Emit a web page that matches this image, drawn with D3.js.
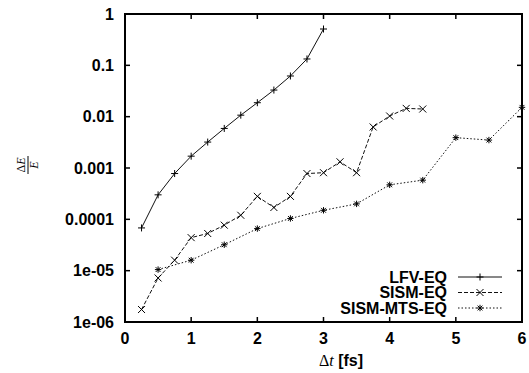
<!DOCTYPE html>
<html>
<head>
<meta charset="utf-8">
<script src="https://cdn.jsdelivr.net/npm/d3@7"></script>
<style>
body { margin: 0; background: #fff; }
svg.main text { font-family: "Liberation Sans", Arial, sans-serif; font-weight: bold; fill: #000; }
svg.main .tick-label { font-size: 16px; }
svg.main .serif { font-family: "Liberation Serif", "DejaVu Serif", serif; font-weight: normal; }
</style>
</head>
<body>
<script>
// tick labels
var yTickVals = [1e-6, 1e-5, 1e-4, 1e-3, 1e-2, 1e-1, 1];
var yTickText = ["1e-06", "1e-05", "0.0001", "0.001", "0.01", "0.1", "1"];
var xTickVals = [0, 1, 2, 3, 4, 5, 6];

// series
var seriesNames = ["LFV-EQ", "SISM-EQ", "SISM-MTS-EQ"];

var lfvX = [0.25, 0.5, 0.75, 1, 1.25, 1.5, 1.75, 2, 2.25, 2.5, 2.75, 3];
var lfvY = [6.8e-5, 3.0e-4, 7.8e-4, 1.7e-3, 3.2e-3, 5.9e-3, 0.0107, 0.0187, 0.033, 0.062, 0.133, 0.51];

var sismX = [0.25, 0.5, 0.75, 1, 1.25, 1.5, 1.75, 2, 2.25, 2.5, 2.75, 3, 3.25, 3.5, 3.75, 4, 4.25, 4.5];
var sismY = [1.75e-6, 7.2e-6, 1.6e-5, 4.4e-5, 5.3e-5, 7.7e-5, 1.2e-4, 2.8e-4, 1.7e-4, 2.8e-4,
             7.8e-4, 8.1e-4, 1.32e-3, 8.1e-4, 6.3e-3, 0.0103, 0.0145, 0.0141];

var mtsX = [0.5, 1, 1.5, 2, 2.5, 3, 3.5, 4, 4.5, 5, 5.5, 6];
var mtsY = [1.05e-5, 1.6e-5, 3.2e-5, 6.6e-5, 1.04e-4, 1.5e-4, 2.0e-4, 4.7e-4, 5.8e-4, 3.9e-3, 3.5e-3, 0.0152];

var W = 529, H = 373;
var padL = 125, padR = 522, padT = 14, padB = 322;

var svg = d3.select("body").append("svg")
    .attr("class", "main")
    .attr("width", W)
    .attr("height", H);

var x = d3.scaleLinear().domain([0, 6]).range([padL, padR]);
var y = d3.scaleLog().domain([1e-6, 1]).range([padB, padT]);

// mirrored inward ticks (gnuplot style)
var tl = 5;
var ticks = svg.append("g").attr("stroke", "#000").attr("stroke-width", 1.5);
xTickVals.forEach(function (v) {
    ticks.append("line").attr("x1", x(v)).attr("x2", x(v)).attr("y1", padB).attr("y2", padB - tl);
    ticks.append("line").attr("x1", x(v)).attr("x2", x(v)).attr("y1", padT).attr("y2", padT + tl);
});
yTickVals.forEach(function (v) {
    ticks.append("line").attr("x1", padL).attr("x2", padL + tl).attr("y1", y(v)).attr("y2", y(v));
    ticks.append("line").attr("x1", padR).attr("x2", padR - tl).attr("y1", y(v)).attr("y2", y(v));
});

svg.append("rect")
    .attr("x", padL).attr("y", padT)
    .attr("width", padR - padL).attr("height", padB - padT)
    .attr("fill", "none").attr("stroke", "#000").attr("stroke-width", 2);

// tick labels
svg.selectAll("text.ylab").data(yTickVals).enter().append("text")
    .attr("class", "tick-label ylab")
    .attr("x", 114)
    .attr("y", function (d) { return y(d); })
    .attr("dy", "0.36em")
    .attr("text-anchor", "end")
    .text(function (d, i) { return yTickText[i]; });

svg.selectAll("text.xlab").data(xTickVals).enter().append("text")
    .attr("class", "tick-label xlab")
    .attr("x", function (d) { return x(d); })
    .attr("y", 344)
    .attr("text-anchor", "middle")
    .text(function (d) { return d; });

// axis titles
var xt = svg.append("text").attr("x", 341).attr("y", 366).attr("text-anchor", "middle").style("font-size", "16px");
xt.append("tspan").attr("class", "serif").text("\u0394");
xt.append("tspan").attr("class", "serif").style("font-style", "italic").text("t");
xt.append("tspan").text(" [fs]");

var yt = svg.append("g").attr("transform", "translate(28,165) rotate(-90)");
var num = yt.append("text").attr("class", "serif").attr("x", 0).attr("y", -3)
    .attr("text-anchor", "middle").style("font-size", "12px");
num.append("tspan").text("\u0394");
num.append("tspan").style("font-style", "italic").text("E");
yt.append("line").attr("x1", -9).attr("x2", 9).attr("y1", 0).attr("y2", 0)
    .attr("stroke", "#000").attr("stroke-width", 1);
yt.append("text").attr("class", "serif").attr("x", 0).attr("y", 10)
    .attr("text-anchor", "middle").style("font-size", "12px").style("font-style", "italic").text("E");

// markers
function plusPath(s) { return "M" + (-s) + ",0H" + s + "M0," + (-s) + "V" + s; }
function crossPath(s) { return "M" + (-s) + "," + (-s) + "L" + s + "," + s + "M" + (-s) + "," + s + "L" + s + "," + (-s); }
function starPath(s) { return plusPath(s) + crossPath(s * 0.75); }

var series = [
    { name: seriesNames[0], xs: lfvX, ys: lfvY, dash: null, mark: plusPath(3.5) },
    { name: seriesNames[1], xs: sismX, ys: sismY, dash: "4,2", mark: crossPath(3.5) },
    { name: seriesNames[2], xs: mtsX, ys: mtsY, dash: "1.5,2", mark: starPath(3.2) }
];

var line = d3.line()
    .x(function (d) { return x(d[0]); })
    .y(function (d) { return y(d[1]); });

series.forEach(function (s, k) {
    var pts = s.xs.map(function (v, i) { return [v, s.ys[i]]; });
    svg.append("path")
        .attr("d", line(pts))
        .attr("fill", "none")
        .attr("stroke", "#111")
        .attr("stroke-width", 1)
        .attr("stroke-dasharray", s.dash);
    svg.selectAll("path.m" + k).data(pts).enter().append("path")
        .attr("class", "m" + k)
        .attr("d", s.mark)
        .attr("transform", function (d) { return "translate(" + x(d[0]) + "," + y(d[1]) + ")"; })
        .attr("fill", "none")
        .attr("stroke", "#000")
        .attr("stroke-width", 1);

    // legend
    var ly = 277 + k * 15.5;
    svg.append("text").attr("class", "tick-label")
        .attr("x", 447).attr("y", ly).attr("dy", "0.36em")
        .attr("text-anchor", "end").text(s.name);
    svg.append("line").attr("x1", 458).attr("x2", 502).attr("y1", ly).attr("y2", ly)
        .attr("stroke", "#111").attr("stroke-width", 1).attr("stroke-dasharray", s.dash);
    svg.append("path").attr("d", s.mark)
        .attr("transform", "translate(480," + ly + ")")
        .attr("fill", "none").attr("stroke", "#000").attr("stroke-width", 1);
});
</script>
</body>
</html>
